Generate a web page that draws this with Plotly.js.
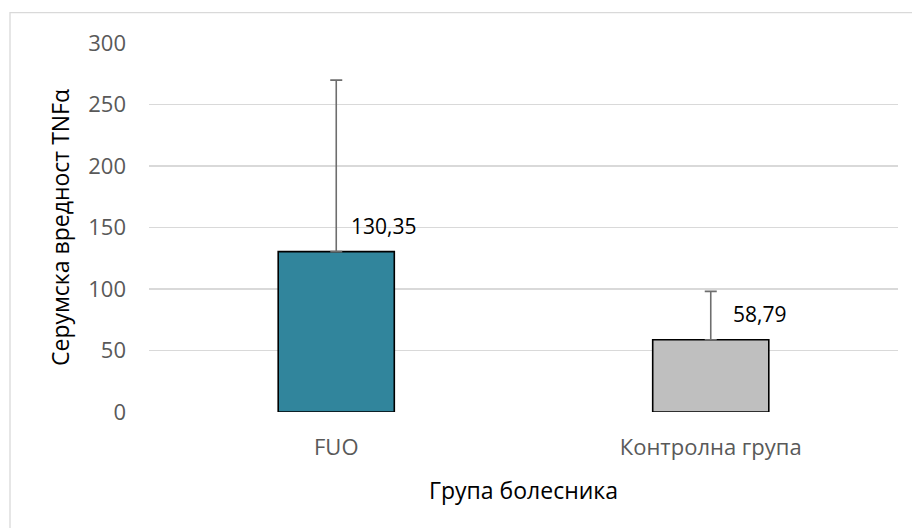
<!DOCTYPE html>
<html>
<head>
<meta charset="utf-8">
<script src="https://cdn.plot.ly/plotly-3.0.1.min.js"></script>
<style>
html,body{margin:0;padding:0;background:#fff;}
#chart{width:912px;height:528px;}
</style>
</head>
<body>
<div id="chart"></div>
<script>
// Data
const categories = ['FUO', 'Контролна група'];
const means = [130.35, 58.79];
const errorsPlus = [139.5, 39.3];
const yTickValues = [0, 50, 100, 150, 200, 250, 300];

const xTitle = 'Група болесника';
const yTitle = 'Серумска вредност TNFα';

// Styles
const barColors = ['#31859C', '#BFBFBF'];
const labelXShift = [13, 20];
const FONT = '"Open Sans", "Noto Sans", sans-serif';

const trace = {
  type: 'bar',
  x: categories,
  y: means,
  marker: { color: barColors, line: { color: '#000000', width: 1.6 } },
  error_y: {
    type: 'data',
    symmetric: false,
    array: errorsPlus,
    arrayminus: errorsPlus.map(() => 0),
    color: '#6e6e6e',
    thickness: 1.6,
    width: 6
  },
  hoverinfo: 'none'
};

const annotations = categories.map((c, i) => ({
  x: c,
  y: means[i],
  xref: 'x',
  yref: 'y',
  text: means[i].toFixed(2).replace('.', ','),
  showarrow: false,
  xanchor: 'left',
  yanchor: 'middle',
  xshift: labelXShift[i],
  yshift: 26,
  font: { family: FONT, size: 21, color: '#000000' }
}));

const layout = {
  width: 912,
  height: 528,
  margin: { l: 149, r: 14, t: 43, b: 116 },
  paper_bgcolor: '#ffffff',
  plot_bgcolor: '#ffffff',
  showlegend: false,
  bargap: 0.69,
  xaxis: {
    type: 'category',
    showgrid: false,
    zeroline: false,
    showline: false,
    ticks: '',
    ticklabelstandoff: 20,
    tickfont: { family: FONT, size: 22, color: '#595959' },
    title: { text: xTitle, standoff: 22, font: { family: FONT, size: 23, color: '#000000' } }
  },
  yaxis: {
    range: [0, 300],
    tickvals: yTickValues,
    ticktext: yTickValues.map(String),
    showgrid: true,
    gridcolor: '#D9D9D9',
    gridwidth: 1.3,
    zeroline: false,
    showline: false,
    ticks: '',
    ticklabelstandoff: 22,
    tickfont: { family: FONT, size: 22, color: '#595959' },
    title: { text: yTitle, standoff: 12, font: { family: FONT, size: 23, color: '#000000' } }
  },
  annotations: annotations,
  shapes: [{
    type: 'rect',
    xref: 'paper', yref: 'paper',
    x0: -139 / 749, x1: 1.1,
    y0: -0.5, y1: 1 + 30.3 / 369,
    line: { color: '#D9D9D9', width: 1.3 },
    fillcolor: 'rgba(0,0,0,0)',
    layer: 'below'
  }]
};

Plotly.newPlot('chart', [trace], layout, { staticPlot: true, displayModeBar: false });
</script>
</body>
</html>
